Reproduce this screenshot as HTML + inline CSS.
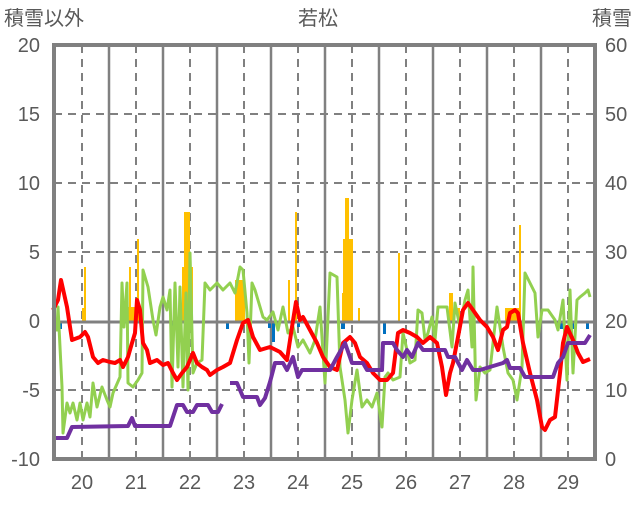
<!DOCTYPE html>
<html><head><meta charset="utf-8"><style>
body{margin:0;background:#fff;width:636px;height:501px;overflow:hidden}
text{font-family:"Liberation Sans","Noto Sans CJK JP",sans-serif;fill:#595959}
</style></head><body>
<svg width="636" height="501" viewBox="0 0 636 501" xmlns="http://www.w3.org/2000/svg">
<rect width="636" height="501" fill="#fff"/>
<g stroke="#808080" stroke-width="2" stroke-dasharray="8,6" fill="none">
<line x1="54" y1="114" x2="595" y2="114"/><line x1="54" y1="183" x2="595" y2="183"/>
<line x1="54" y1="252" x2="595" y2="252"/><line x1="54" y1="390" x2="595" y2="390"/>
<line x1="82" y1="45" x2="82" y2="459"/><line x1="136" y1="45" x2="136" y2="459"/>
<line x1="190" y1="45" x2="190" y2="459"/><line x1="244" y1="45" x2="244" y2="459"/>
<line x1="298" y1="45" x2="298" y2="459"/><line x1="352" y1="45" x2="352" y2="459"/>
<line x1="406" y1="45" x2="406" y2="459"/><line x1="460" y1="45" x2="460" y2="459"/>
<line x1="514" y1="45" x2="514" y2="459"/><line x1="568" y1="45" x2="568" y2="459"/>
</g>
<g stroke="#808080" stroke-width="2.5">
<line x1="109" y1="45" x2="109" y2="459"/><line x1="163" y1="45" x2="163" y2="459"/>
<line x1="217" y1="45" x2="217" y2="459"/><line x1="271" y1="45" x2="271" y2="459"/>
<line x1="325" y1="45" x2="325" y2="459"/><line x1="379" y1="45" x2="379" y2="459"/>
<line x1="433" y1="45" x2="433" y2="459"/><line x1="487" y1="45" x2="487" y2="459"/>
<line x1="541" y1="45" x2="541" y2="459"/>
</g>
<g fill="#FFC000">
<rect x="82" y="308" width="4" height="14"/><rect x="84" y="267" width="2" height="55"/>
<rect x="127" y="307" width="10" height="15"/><rect x="129" y="267" width="2" height="55"/><rect x="137" y="239" width="2" height="83"/>
<rect x="182" y="267" width="11" height="55"/><rect x="184" y="212" width="6" height="110"/>
<rect x="235" y="280" width="10" height="42"/>
<rect x="288" y="280" width="2" height="42"/><rect x="295" y="212" width="2" height="110"/>
<rect x="342" y="293" width="11" height="29"/><rect x="343" y="239" width="10" height="83"/><rect x="345" y="198" width="4" height="124"/>
<rect x="358" y="308" width="2" height="14"/><rect x="398" y="253" width="2" height="69"/>
<rect x="449" y="293" width="4" height="29"/><rect x="457" y="308" width="3" height="14"/>
<rect x="505" y="308" width="15" height="14"/><rect x="519" y="225" width="2" height="97"/>
</g>
<g fill="#0070C0">
<rect x="59" y="322" width="3" height="7"/><rect x="171" y="322" width="3" height="7"/>
<rect x="226" y="322" width="3" height="7"/><rect x="268" y="322" width="3" height="6"/><rect x="272" y="322" width="3" height="20"/>
<rect x="297" y="322" width="3" height="5"/><rect x="341" y="322" width="4" height="7"/><rect x="383" y="322" width="3" height="12"/>
<rect x="560" y="322" width="3" height="7"/><rect x="571" y="322" width="3" height="7"/><rect x="586" y="322" width="3" height="7"/>
</g>
<line x1="54" y1="322" x2="595" y2="322" stroke="#808080" stroke-width="3"/>
<polyline fill="none" stroke="#92D050" stroke-width="3" stroke-linejoin="round" points="55,330 57,330 58,307 62,387 63,433 67,403 70,413 73,403 77,420 80,403 83,420 87,403 90,417 93,383 97,407 102,387 107,400 110,407 113,393 120,377 122,283 124,327 127,283 128,383 133,387 138,380 142,373 143,270 148,287 153,320 156,335 160,307 163,297 167,310 170,290 172,387 175,283 178,367 180,287 183,387 186,293 188,390 190,253 193,373 197,363 202,360 205,283 210,290 217,283 223,290 230,283 235,293 240,267 243,270 247,313 249,363 252,283 255,290 263,317 267,320 273,312 278,330 283,307 288,333 293,327 298,347 303,340 310,353 315,340 320,307 325,383 330,273 337,277 340,367 345,400 348,433 352,400 357,370 362,407 367,400 372,407 377,393 382,427 385,377 388,373 393,380 400,377 403,333 410,363 415,360 418,310 422,313 425,340 428,333 432,317 435,340 438,307 443,307 447,307 452,347 455,303 460,327 465,300 468,290 472,347 473,267 476,400 480,367 485,373 490,370 497,307 503,347 508,373 513,380 517,400 522,367 525,273 530,283 535,293 538,337 542,310 548,310 555,320 558,330 563,300 567,380 570,290 573,373 577,300 580,297 585,293 588,290 590,297"/>
<polyline fill="none" stroke="#FF0000" stroke-width="4" stroke-linejoin="round" points="53,310 58,300 61,280 67,307 72,340 80,337 85,332 88,337 93,357 98,363 103,360 110,362 115,363 120,360 123,367 128,357 132,343 135,333 137,300 140,310 143,343 147,350 150,363 157,360 163,365 168,363 173,373 177,380 182,373 187,367 193,353 197,363 202,367 207,370 210,375 217,370 223,367 230,363 237,340 243,323 248,320 253,337 260,350 270,347 280,352 287,360 292,327 296,302 300,320 303,317 310,330 317,343 323,357 330,367 337,370 343,343 350,337 355,343 360,357 367,363 373,373 380,380 387,380 393,373 398,333 403,330 410,333 417,337 423,343 430,337 437,343 442,367 446,395 450,373 453,363 458,337 463,310 468,303 473,310 480,320 487,327 493,337 498,350 503,330 507,327 510,313 515,310 518,313 523,343 530,373 537,400 542,427 545,430 550,420 555,417 560,373 563,343 567,327 573,340 578,353 583,362 590,359"/>
<polyline fill="none" stroke="#7030A0" stroke-width="4" stroke-linejoin="round" points="53,438 67,438 72,427 128,426 132,418 135,426 170,426 177,405 183,405 187,412 193,412 197,405 208,405 212,412 218,412 222,404"/>
<polyline fill="none" stroke="#7030A0" stroke-width="4" stroke-linejoin="round" points="230,383 237,383 243,397 257,397 260,405 265,398 270,382 275,363 283,363 287,370 293,357 298,377 302,370 330,370 337,357 345,343 352,363 363,363 367,370 382,370 383,343 393,343 397,350 403,357 407,350 412,357 418,343 423,350 445,350 448,357 455,357 462,370 467,360 473,370 480,370 503,363 507,360 510,368 520,368 525,377 553,377 558,363 563,357 568,343 585,343 590,335"/>
<rect x="54" y="45" width="541" height="414" fill="none" stroke="#808080" stroke-width="4"/>
<g font-size="20" text-anchor="end">
<text x="40" y="52">20</text><text x="40" y="121">15</text><text x="40" y="190">10</text>
<text x="40" y="259">5</text><text x="40" y="328">0</text><text x="40" y="397">-5</text><text x="40" y="466">-10</text>
</g>
<g font-size="20" text-anchor="start">
<text x="605" y="52">60</text><text x="605" y="121">50</text><text x="605" y="190">40</text>
<text x="605" y="259">30</text><text x="605" y="328">20</text><text x="605" y="397">10</text><text x="605" y="466">0</text>
</g>
<g font-size="20" text-anchor="middle">
<text x="82" y="489">20</text><text x="136" y="489">21</text><text x="190" y="489">22</text><text x="244" y="489">23</text><text x="298" y="489">24</text>
<text x="352" y="489">25</text><text x="406" y="489">26</text><text x="460" y="489">27</text><text x="514" y="489">28</text><text x="568" y="489">29</text>
<text x="318" y="25">若松</text>
</g>
<text x="4" y="25" font-size="20">積雪以外</text>
<text x="632" y="25" font-size="20" text-anchor="end">積雪</text>
</svg>
</body></html>
